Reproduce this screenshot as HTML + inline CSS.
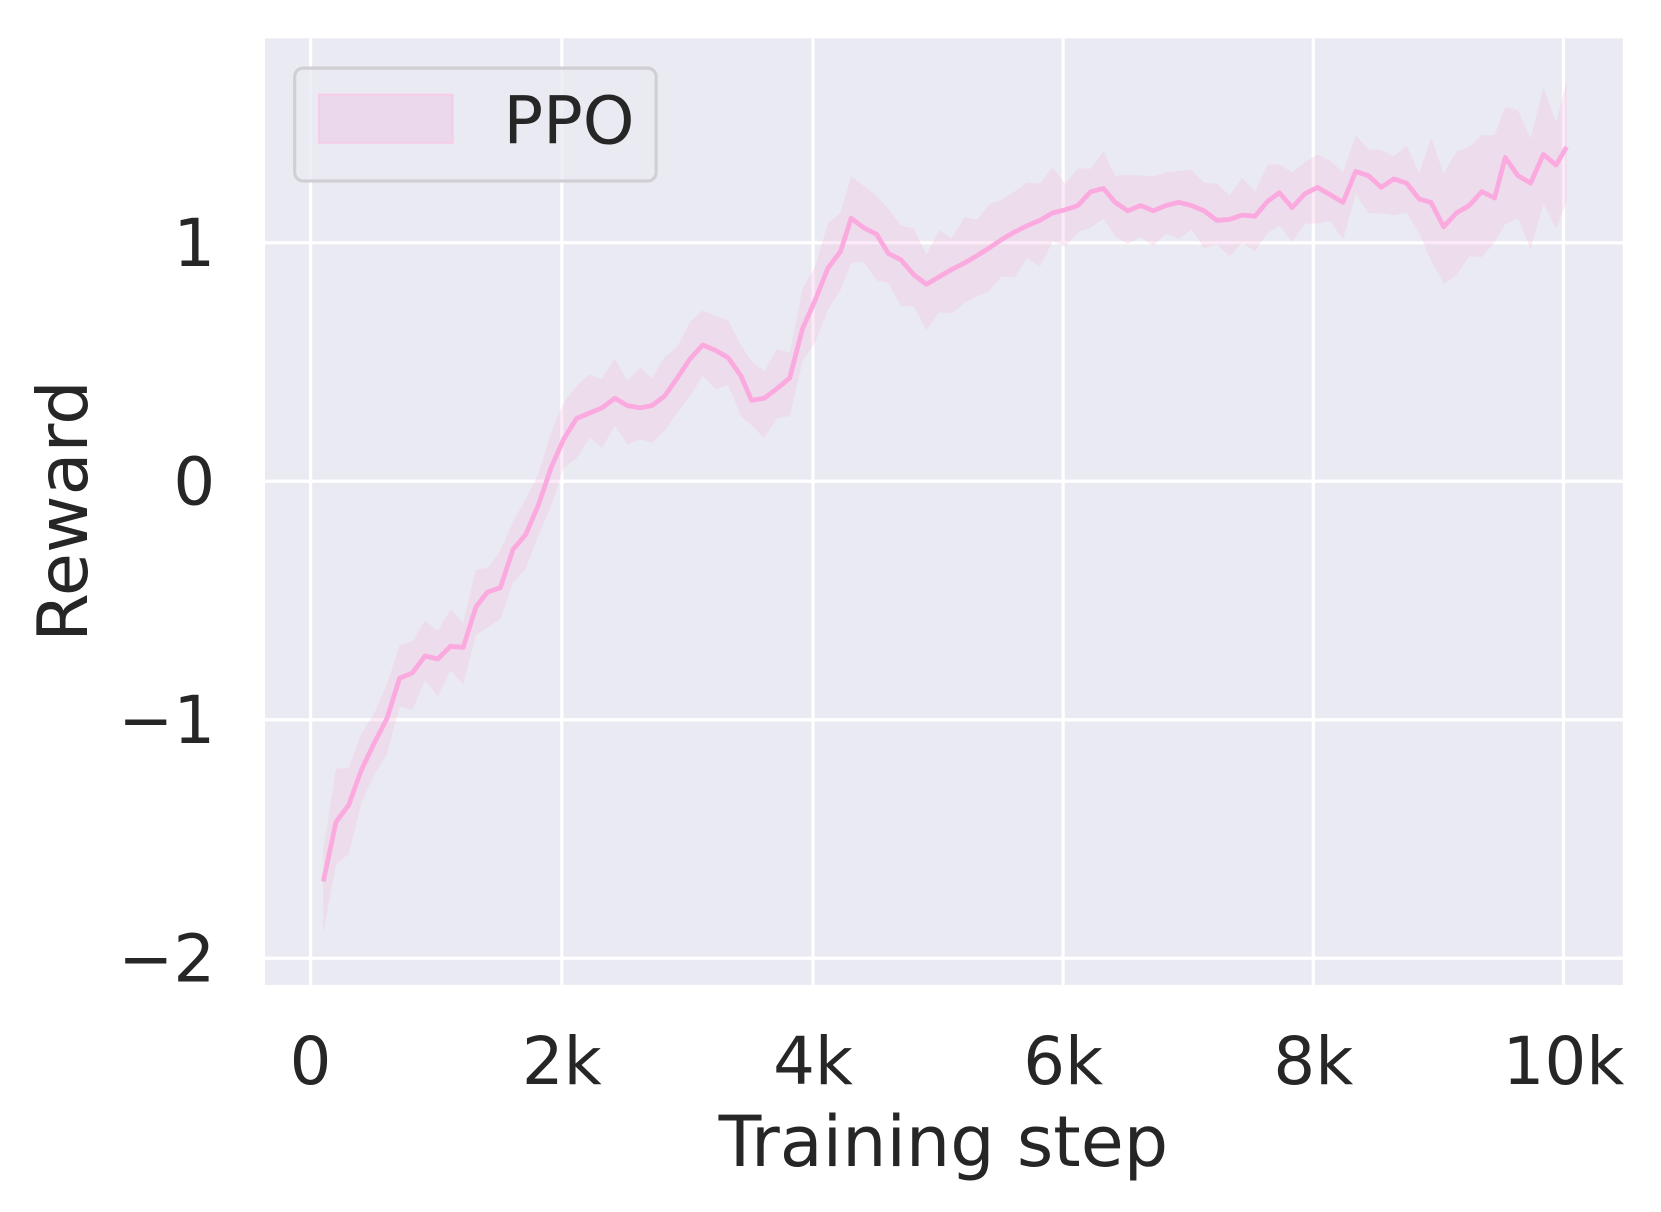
<!DOCTYPE html>
<html><head><meta charset="utf-8"><style>html,body{margin:0;padding:0;background:#fff}svg{display:block}</style></head>
<body>
<svg id="s" width="1661" height="1212" viewBox="0 0 1567 1138.3" preserveAspectRatio="none" xmlns="http://www.w3.org/2000/svg" font-family="'DejaVu Sans','Liberation Sans',sans-serif" fill="#262626">
<rect x="250" y="36" width="1281" height="889" fill="#eaeaf2"/>
<g stroke="#fff" stroke-width="3">
<line x1="293" y1="36" x2="293" y2="925"/><line x1="530" y1="36" x2="530" y2="925"/><line x1="767" y1="36" x2="767" y2="925"/><line x1="1003" y1="36" x2="1003" y2="925"/><line x1="1239" y1="36" x2="1239" y2="925"/><line x1="1475" y1="36" x2="1475" y2="925"/>
<line x1="250" y1="228" x2="1531" y2="228"/><line x1="250" y1="452" x2="1531" y2="452"/><line x1="250" y1="676" x2="1531" y2="676"/><line x1="250" y1="900" x2="1531" y2="900"/>
</g>
<path id="band" fill="#f4b8e0" fill-opacity="0.28" stroke="none"/>
<polyline id="mean" fill="none" stroke="#fbaadf" stroke-width="4.5" stroke-linejoin="round"/>
<g font-size="62" text-anchor="end">
<text x="203" y="250">1</text><text x="203" y="474">0</text><text x="203" y="698">−1</text><text x="203" y="922">−2</text>
</g>
<g font-size="62" text-anchor="middle">
<text x="293" y="1018">0</text><text x="530" y="1018">2k</text><text x="767" y="1018">4k</text><text x="1003" y="1018">6k</text><text x="1239" y="1018">8k</text><text x="1475" y="1018">10k</text>
</g>
<text x="890" y="1095" font-size="66" text-anchor="middle">Training step</text>
<text transform="translate(82,480) rotate(-90)" font-size="66" text-anchor="middle">Reward</text>
<rect x="278" y="64" width="341" height="106" rx="8" fill="#eaeaf2" fill-opacity="0.8" stroke="#d0d0d4" stroke-width="3"/>
<rect x="301" y="89" width="126" height="45" fill="#ecd8ec" stroke="#f4cde8" stroke-width="2"/>
<text x="475" y="135" font-size="62">PPO</text>
</svg>
<script>
var m=[[305,828],[317,772],[329,756],[341,723],[353,698],[365,675],[377,637],[389,632],[401,616],[413,619],[425,607],[437,608],[449,570],[460,556],[472,552],[484,516],[496,502],[508,474],[520,439],[532,412],[544,393],[556,388],[568,383],[580,374],[592,381],[604,383],[615,381],[627,372],[639,355],[651,337],[663,324],[675,329],[687,336],[699,353],[709,376],[721,374],[733,365],[745,355],[757,309],[769,282],[781,252],[793,236],[803,205],[815,214],[827,220],[838,238],[850,244],[862,258],[874,267],[886,260],[898,253],[910,247],[922,240],[933,233],[945,225],[957,218],[969,212],[981,207],[993,200],[1005,197],[1017,193],[1029,180],[1041,177],[1052,190],[1064,198],[1076,193],[1088,198],[1100,193],[1112,190],[1124,193],[1136,198],[1148,207],[1160,206],[1172,202],[1184,203],[1196,189],[1207,181],[1219,195],[1231,182],[1243,176],[1255,183],[1267,190],[1279,161],[1291,165],[1303,176],[1315,168],[1327,172],[1339,187],[1350,190],[1362,213],[1374,200],[1386,193],[1398,180],[1410,186],[1420,148],[1432,165],[1444,172],[1456,145],[1468,155],[1478,138]];
document.getElementById('mean').setAttribute('points',m.map(function(p){return p.join(',')}).join(' '));
function w(i,x){var base;
 if(x<340)base=40;else if(x<520)base=28;else if(x<760)base=30;else if(x<1000)base=35;else if(x<1340)base=28;else base=50;
 return base*(0.75+0.5*Math.abs(Math.sin(i*1.7)));}
var up=[],lo=[];
m.forEach(function(p,i){var a=w(i,p[0]),b=w(i+3,p[0]);up.push(p[0]+','+(p[1]-a));lo.push(p[0]+','+(p[1]+b));});
document.getElementById('band').setAttribute('d','M'+up.join(' L')+' L'+lo.reverse().join(' L')+'Z');
</script>
</body></html>
